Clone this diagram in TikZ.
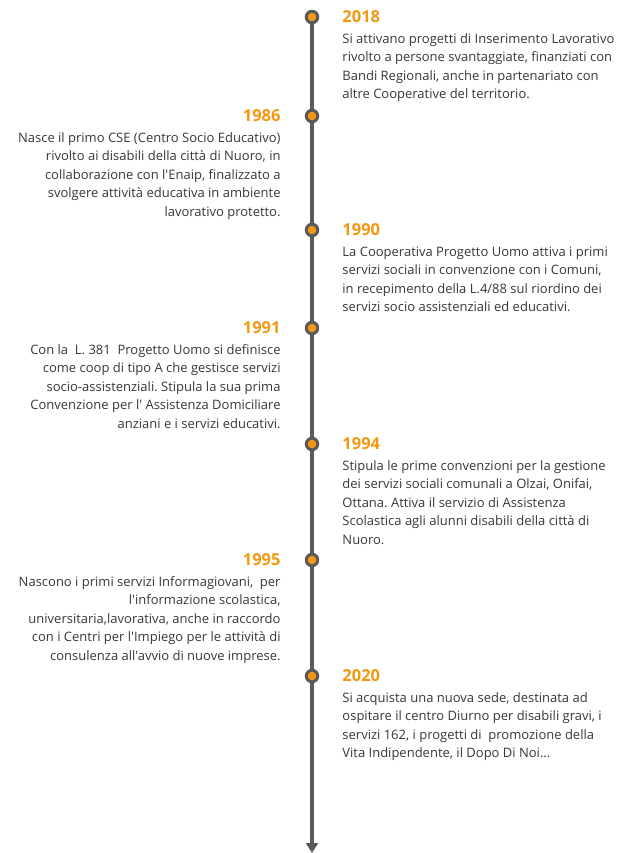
\documentclass[tikz,border=0pt]{standalone}
\usepackage{fontspec}
\setmainfont{Open Sans}[Ligatures=TeXOff]
\usetikzlibrary{arrows.meta,positioning,backgrounds}
\definecolor{tlorange}{RGB}{243,152,18}
\definecolor{tlgray}{RGB}{90,90,90}
\definecolor{tltext}{RGB}{55,55,55}
\frenchspacing

\begin{document}
\begin{tikzpicture}[x=1pt,y=-1pt,
		dot/.style={circle,draw=tlgray,line width=3pt,fill=tlorange,minimum size=11.5pt,inner sep=0pt},
		year/.style={text=tlorange,font=\fontsize{16.5}{18}\selectfont\bfseries,inner sep=0pt},
		desc/.style={text=tltext,font=\fontsize{13}{18.5}\selectfont,inner sep=0pt},
		tline/.style={draw=tlgray,line width=4pt,-{Triangle[width=12pt,length=10pt]}}]
					\useasboundingbox (0,0) rectangle (623,853);
					\foreach \yr/\yy in {2018/17, 1986/116, 1990/230, 1991/328, 1994/444, 1995/560, 2020/676} \node[dot] (d\yr) at (312,\yy) {};
					\coordinate (tlend) at (312,853);
					\begin{scope}[on background layer]
					\draw[tline] (d2018.center) -- (tlend);
					\end{scope}
					
					\node[year, right=23pt of d2018] (y2018) {2018};
					\node[desc, anchor=north west, align=left] (t2018) at ([yshift=-10pt]y2018.south west) {Si attivano progetti di Inserimento Lavorativo\\rivolto a persone svantaggiate, finanziati con\\Bandi Regionali, anche in partenariato con\\altre Cooperative del territorio.};
					
					\node[year, left=24pt of d1986] (y1986) {1986};
					\node[desc, anchor=north east, align=right] (t1986) at ([yshift=-10pt]y1986.south east) {Nasce il primo CSE (Centro Socio Educativo)\\rivolto ai disabili della città di Nuoro, in\\collaborazione con l'Enaip, finalizzato a\\svolgere attività educativa in ambiente\\lavorativo protetto.};
					
					\node[year, right=23pt of d1990] (y1990) {1990};
					\node[desc, anchor=north west, align=left] (t1990) at ([yshift=-10pt]y1990.south west) {La Cooperativa Progetto Uomo attiva i primi\\servizi sociali in convenzione con i Comuni,\\in recepimento della L.4/88 sul riordino dei\\servizi socio assistenziali ed educativi.};
					
					\node[year, left=24pt of d1991] (y1991) {1991};
					\node[desc, anchor=north east, align=right] (t1991) at ([yshift=-10pt]y1991.south east) {Con la\ \ L. 381\ \ Progetto Uomo si definisce\\come coop di tipo A che gestisce servizi\\socio-assistenziali. Stipula la sua prima\\Convenzione per l' Assistenza Domiciliare\\anziani e i servizi educativi.};
					
					\node[year, right=23pt of d1994] (y1994) {1994};
					\node[desc, anchor=north west, align=left] (t1994) at ([yshift=-10pt]y1994.south west) {Stipula le prime convenzioni per la gestione\\dei servizi sociali comunali a Olzai, Onifai,\\Ottana. Attiva il servizio di Assistenza\\Scolastica agli alunni disabili della città di\\Nuoro.};
					
					\node[year, left=24pt of d1995] (y1995) {1995};
					\node[desc, anchor=north east, align=right] (t1995) at ([yshift=-10pt]y1995.south east) {Nascono i primi servizi Informagiovani,\ \ per\\l'informazione scolastica,\\universitaria,lavorativa, anche in raccordo\\con i Centri per l'Impiego per le attività di\\consulenza all'avvio di nuove imprese.};
					
					\node[year, right=23pt of d2020] (y2020) {2020};
					\node[desc, anchor=north west, align=left] (t2020) at ([yshift=-10pt]y2020.south west) {Si acquista una nuova sede, destinata ad\\ospitare il centro Diurno per disabili gravi, i\\servizi 162, i progetti di\ \ promozione della\\Vita Indipendente, il Dopo Di Noi...};
				\end{tikzpicture}
\end{document}
